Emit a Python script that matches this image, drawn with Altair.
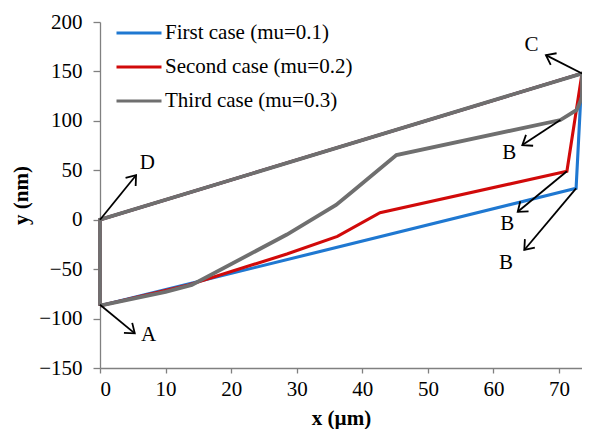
import math
import altair as alt
import pandas as pd

# ---------------- data ----------------
series_names = ["First case (mu=0.1)", "Second case (mu=0.2)", "Third case (mu=0.3)"]
series_colors = ["#1f78d1", "#d10a0a", "#6f6f6f"]

first_x = [0, 72.6, 73.5, 0, 0]
first_y = [-87, 31.7, 148, 0, -87]

second_x = [0, 8.5, 13.5, 28.5, 36.2, 42.7, 71.2, 73.5, 0, 0]
second_y = [-87, -74, -66, -34.7, -16.9, 7.1, 49, 148, 0, -87]

third_x = [0, 10, 14, 28.5, 36, 38.5, 45.2, 70.2, 72.7, 73.5, 73.5, 0, 0]
third_y = [-87, -73, -66, -15, 15, 28.6, 65.4, 100.8, 111, 124, 148, 0, -87]

# annotation arrows: start (x, y) -> tip (x2, y2), label position
arrow_labels = ["A", "D", "C", "B", "B", "B"]
arrow_x0 = [0, 0, 73.5, 70.2, 71.2, 72.6]
arrow_y0 = [-86, 0, 148, 100.8, 49, 31.7]
arrow_x1 = [5.3, 5.5, 68.0, 64.4, 63.7, 64.7]
arrow_y1 = [-115, 45, 166.5, 75.5, 8, -30.6]
label_x = [7.4, 7.2, 65.8, 62.4, 62.1, 61.9]
label_y = [-117, 57, 177, 67, -4.4, -44]

X_MAX = 73.5
Y_MIN, Y_MAX = -150, 200
W, H = 482, 346

# ---------------- tables ----------------
rows = []
for name, xs, ys in zip(series_names, [first_x, second_x, third_x], [first_y, second_y, third_y]):
    for i, (xv, yv) in enumerate(zip(xs, ys)):
        rows.append({"series": name, "x": xv, "y": yv, "i": i})
lines_df = pd.DataFrame(rows)

sx = W / X_MAX
sy = H / (Y_MAX - Y_MIN)
arrows_df = pd.DataFrame({
    "x": arrow_x0, "y": arrow_y0, "x2": arrow_x1, "y2": arrow_y1,
})
heads_df = pd.DataFrame({
    "x": arrow_x1, "y": arrow_y1,
    "angle": [
        math.degrees(math.atan2(-(y1 - y0) * sy, (x1 - x0) * sx)) % 360
        for x0, y0, x1, y1 in zip(arrow_x0, arrow_y0, arrow_x1, arrow_y1)
    ],
})
labels_df = pd.DataFrame({"x": label_x, "y": label_y, "label": arrow_labels})

FONT = "Liberation Serif"

x_enc = alt.X(
    "x:Q",
    scale=alt.Scale(domain=[0, X_MAX], nice=False, zero=False),
    axis=alt.Axis(values=list(range(0, 71, 10)), title="x (µm)", tickSize=5,
                  labelPadding=5, titleBaseline="bottom", titleY=60),
)
y_enc = alt.Y(
    "y:Q",
    scale=alt.Scale(domain=[Y_MIN, Y_MAX], nice=False, zero=False),
    axis=alt.Axis(values=list(range(-150, 201, 50)), title="y (nm)", tickSize=7,
                  labelPadding=11, titlePadding=7),
)
color_enc = alt.Color(
    "series:N",
    scale=alt.Scale(domain=series_names, range=series_colors),
    sort=series_names,
    legend=alt.Legend(
        orient="none", legendX=15, legendY=-13, title=None,
        symbolType="stroke", symbolSize=2025, symbolStrokeWidth=3,
        labelFont=FONT, labelFontSize=21, labelColor="black", labelLimit=500,
        labelOffset=2, rowPadding=-10,
    ),
)

base_lines = alt.Chart(lines_df)
lines_thin = base_lines.mark_line(strokeWidth=3.1, strokeJoin="miter").encode(
    x=x_enc, y=y_enc, order="i:Q", color=color_enc,
).transform_filter(alt.datum.series != series_names[2])
lines_gray = base_lines.mark_line(strokeWidth=3.8, strokeJoin="miter").encode(
    x=x_enc, y=y_enc, order="i:Q", color=color_enc,
).transform_filter(alt.datum.series == series_names[2])

rules = alt.Chart(arrows_df).mark_rule(color="black", strokeWidth=1.8).encode(
    x=x_enc, y=y_enc, x2="x2:Q", y2="y2:Q"
)

heads = alt.Chart(heads_df).mark_point(
    shape="M -1,-0.75 L 0,0 L -1,0.75", filled=False, color="black",
    strokeWidth=1.8, size=300, opacity=1,
).encode(x=x_enc, y=y_enc, angle=alt.Angle("angle:Q", scale=None))

labels = alt.Chart(labels_df).mark_text(
    font=FONT, fontSize=21, color="black", align="center", baseline="middle"
).encode(x=x_enc, y=y_enc, text="label:N")

chart = (
    alt.layer(lines_thin, lines_gray, rules, heads, labels)
    .properties(
        width=W, height=H,
        autosize=alt.AutoSizeParams(type="none"),
        padding={"left": 92, "top": 14, "right": 0, "bottom": 61},
    )
    .configure_view(stroke=None)
    .configure_axis(
        grid=False,
        labelFont=FONT, labelFontSize=21, labelColor="black",
        titleFont=FONT, titleFontSize=21, titleFontWeight="bold", titleColor="black",
        domainColor="#808080", tickColor="#808080", domainWidth=1.3, tickWidth=1.3,
    )
)

chart.save("out.html", embed_options={"renderer": "svg", "actions": False})
